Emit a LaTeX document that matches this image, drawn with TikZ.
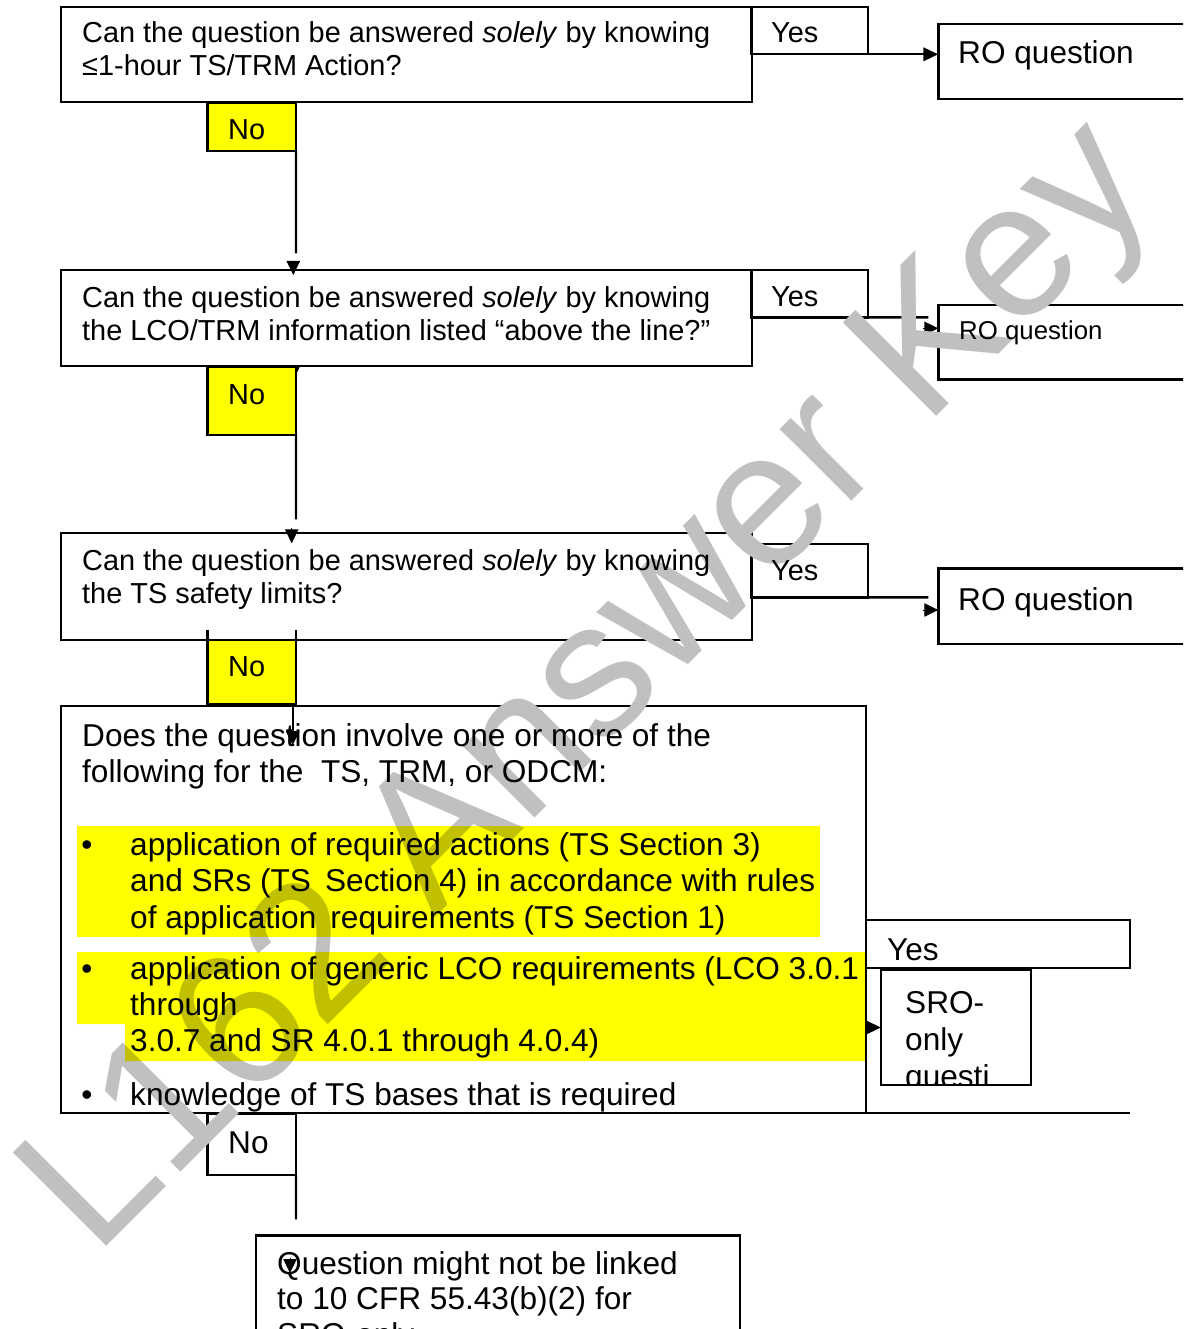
\documentclass[tikz,border=0pt]{standalone}
\usepackage{fontspec}
\setmainfont{Liberation Sans}
\usetikzlibrary{arrows.meta}
\definecolor{hl}{RGB}{255,255,0}
\definecolor{wmgray}{RGB}{192,192,192}
\newcommand{\fsEleven}{\fontsize{28.9}{33.2}\selectfont}
\newcommand{\fsTwelve}{\fontsize{31.6}{36.3}\selectfont}
\newcommand{\fsTen}{\fontsize{25.8}{29.7}\selectfont}
\begin{document}
\begin{tikzpicture}[x=1pt,y=-1pt,
  frame/.style={draw, line width=2.4pt, inner sep=0pt, outer sep=0pt, anchor=north west},
  nobox/.style={frame, fill=hl},
  plainno/.style={frame, fill=white},
  tA/.style={anchor=base west, inner sep=0pt, font=\fsEleven},
  tB/.style={anchor=base west, inner sep=0pt, font=\fsTwelve},
  tC/.style={anchor=base west, inner sep=0pt, font=\fsTen},
  link/.style={line width=2.4pt},
  tip/.style={line width=1pt, -{Triangle[length=14pt,width=13.4pt]}},
  bulletmark/.style={anchor=base, inner sep=0pt, font=\fsTwelve}
]
\useasboundingbox (0,0) rectangle (1183,1329);
\clip (0,0) rectangle (1183,1329);

% ================= frames and connectors =================
% first question
\node[frame, minimum width=690.7, minimum height=95] (q1) at (61,7) {};
\node[frame, minimum width=116.7, minimum height=47.3] (yes1) at (751,7) {};
\node[frame, minimum width=300, minimum height=75.3] (ro1) at (938.3,24) {};
\draw[link, -{Triangle[length=15pt,width=13.4pt]}] (yes1.south east) -- (ro1.west |- yes1.south east);
\node[nobox, minimum width=88.7, minimum height=48.3] (no1) at (207.3,102.7) {};
\coordinate (n1end) at (296,253.3);
\draw[link] (no1.south east) -- (n1end);

% second question
\node[frame, minimum width=690.7, minimum height=96] (q2) at (61,270) {};
\coordinate (n1tip) at (293.3,275);
\draw[tip] (293.3,260.7) -- (n1tip);
\node[frame, minimum width=116.7, minimum height=47.3] (yes2) at (751,270) {};
\node[frame, minimum width=300, minimum height=74.3] (ro2) at (938.3,305) {};
\coordinate (y2end) at (928.3,317.3);
\draw[link] (yes2.south east) -- (y2end);
\draw[tip] (922.7,328.3) -- (ro2.west |- 0,328.3);
\draw[tip] (293.3,365.5) -- (293.3,380);
\node[nobox, minimum width=88.7, minimum height=68.3] (no2) at (207.3,366.7) {};
\coordinate (n2end) at (296,519.3);
\draw[link] (no2.south east) -- (n2end);

% third question
\node[frame, minimum width=690.7, minimum height=107.3] (q3) at (61,532.7) {};
\coordinate (n2tip) at (291.7,543.3);
\draw[tip] (291.7,528.3) -- (n2tip);
\node[frame, minimum width=116.7, minimum height=53.3] (yes3) at (751,544) {};
\node[frame, minimum width=300, minimum height=75.7] (ro3) at (938.3,568.3) {};
\coordinate (y3end) at (928.3,597.3);
\draw[link] (yes3.south east) -- (y3end);
\draw[tip] (922.7,610) -- (ro3.west |- 0,610);
\node[nobox, minimum width=88.7, minimum height=64] (no3) at (207.3,640) {};
\draw[link] (no3.north west) -- ++(0,-10);
\draw[link] (no3.north east) -- ++(0,-10);

% fourth question
\node[frame, minimum width=805, minimum height=407] (q4) at (61,706) {};
\coordinate (n3tip) at (292.7,745);
\draw[link, -{Triangle[length=14pt,width=13.4pt]}] (no3.south east -| 292.7,0) -- (n3tip);
\coordinate (q4rule) at (1130,1113);
\draw[link] (q4.south east) -- (q4rule);
\node[frame, minimum width=264, minimum height=48] (yes4) at (866,920) {};
\node[frame, minimum width=150, minimum height=115] (sro) at (880.7,970) {};
\draw[tip] (q4.east |- sro.west) -- (sro.west);
\node[plainno, minimum width=88.7, minimum height=61.5] (no4) at (207.3,1113.5) {};
\coordinate (n4end) at (296,1219.3);
\draw[link] (no4.south east) -- (n4end);

% outcome
\node[frame, minimum width=484, minimum height=150] (q5) at (256,1235.5) {};
\draw[tip] (290,1258) -- (290,1273);

% ================= watermark =================
\node[anchor=base west, inner sep=0pt, rotate=45, text=wmgray,
      font=\fontsize{192}{192}\selectfont] (wm) at (95,1258) {L162 Answer Key};

% ================= highlighted items =================
\begin{scope}[blend mode=multiply]
  \fill[hl] (77,826) rectangle (820,936.7);
  \fill[hl] (77,952) -- (865,952) -- (865,1061) -- (125,1061) -- (125,1024) -- (77,1024) -- cycle;
\end{scope}

% ================= texts =================
\node[tA] at (82,43) {Can the question be answered \textit{solely} by knowing};
\node[tA] at (82,76) {≤1-hour TS/TRM Action?};
\node[tA] at (771,43) {Yes};
\node[tB] at (958,64) {RO question};
\node[tA] at (228,140) {No};

\node[tA] at (82,307) {Can the question be answered \textit{solely} by knowing};
\node[tA] at (82,340) {the LCO/TRM information listed “above the line?”};
\node[tA] at (771,306) {Yes};
\node[tC] at (959,339.3) {RO question};
\node[tA] at (228,404) {No};

\node[tA] at (82,570) {Can the question be answered \textit{solely} by knowing};
\node[tA] at (82,603) {the TS safety limits?};
\node[tA] at (771,580) {Yes};
\node[tB] at (958,610) {RO question};
\node[tA] at (228,676) {No};

\node[tB] at (82,746) {Does the question involve one or more of the};
\node[tB] at (82,782) {following for the\ \ TS, TRM, or ODCM:};
\node[bulletmark] at (87,855) {•};
\node[tB] at (130,855) {application of required actions (TS Section 3)};
\node[tB] at (130,891.5) {and SRs (TS\ \,Section 4) in accordance with rules};
\node[tB] at (130,928) {of application\ \,requirements (TS Section 1)};
\node[bulletmark] at (87,979) {•};
\node[tB] at (130,979) {application of generic LCO requirements (LCO 3.0.1};
\node[tB] at (130,1015) {through};
\node[tB] at (130,1051.5) {3.0.7 and SR 4.0.1 through 4.0.4)};
\node[bulletmark] at (87,1105) {•};
\node[tB] at (130,1105) {knowledge of TS bases that is required};
\node[tB] at (887,960) {Yes};
\begin{scope}
  \clip (sro.north west) rectangle (sro.south east);
  \node[tB] at (905,1013) {SRO-};
  \node[tB] at (905,1050) {only};
  \node[tB] at (905,1087) {questi};
\end{scope}
\node[tB] at (228,1153) {No};

\node[tB] at (277,1274) {Question might not be linked};
\node[tB] at (277,1309.5) {to 10 CFR 55.43(b)(2) for};
\node[tB] at (277,1345.5) {SRO-only};
\end{tikzpicture}
\end{document}
